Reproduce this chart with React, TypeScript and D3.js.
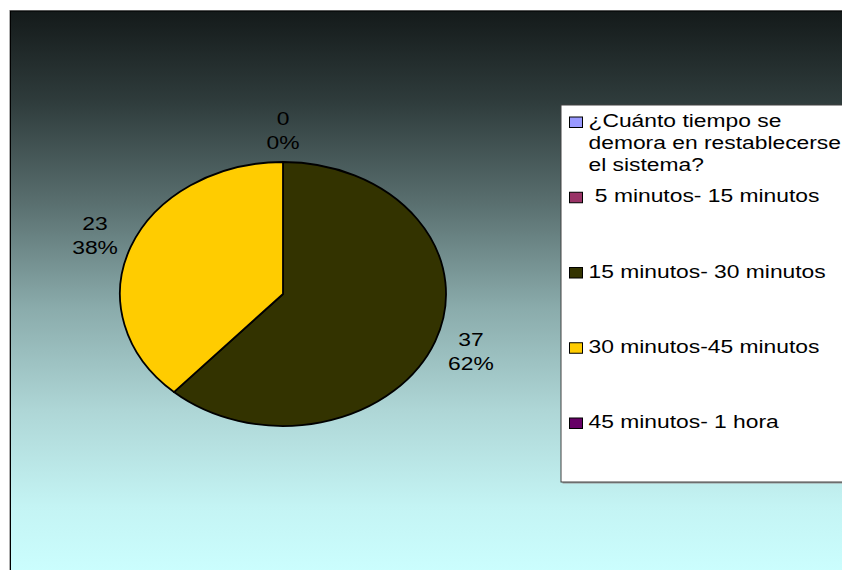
import React, { useEffect } from "react";
import * as d3 from "d3";

// ---- data ----
const categoryLines: string[][] = [
  ["¿Cuánto tiempo se", "demora en restablecerse", "el sistema?"],
  [" 5 minutos- 15 minutos"],
  ["15 minutos- 30 minutos"],
  ["30 minutos-45 minutos"],
  ["45 minutos- 1 hora"],
];
const values: (number | null)[] = [null, 0, 37, 23, null];
const colors: string[] = ["#9999FF", "#993366", "#333300", "#FFCC00", "#660066"];

// ---- layout ----
const W = 842;
const H = 570;
const SX = 1.235; // horizontal stretch of the picture
const CX = 283;
const CY = 294;
const R = 132;
const LABEL_R = 163;
const FONT = "'Liberation Sans', Arial, Helvetica, sans-serif";
const FS = 18.5;

type Slice = { name: string; value: number; color: string };

export default function App() {
  useEffect(() => {
    document.documentElement.style.overflow = "hidden";
    document.body.style.margin = "0";
    document.body.style.overflow = "hidden";
  }, []);

  const slices: Slice[] = categoryLines
    .map((lines, i) => ({ name: lines.join(" "), value: values[i] as number, color: colors[i] }))
    .filter((d, i) => values[i] !== null);
  const total = d3.sum(slices, (d) => d.value);

  const pie = d3
    .pie<Slice>()
    .sort(null)
    .value((d) => d.value)
    .startAngle(0)
    .endAngle(2 * Math.PI);
  const arcs = pie(slices);
  const arc = d3.arc<d3.PieArcDatum<Slice>>().innerRadius(0).outerRadius(R);

  const legendY = d3.scaleLinear().domain([0, categoryLines.length - 1]).range([122, 423]);

  const bgStops = [
    [0, "#141a1a"],
    [0.16, "#2f3c3c"],
    [0.34, "#5a7070"],
    [0.52, "#8aabab"],
    [0.7, "#aed6d6"],
    [0.87, "#c4f4f4"],
    [1, "#ccffff"],
  ];

  return (
    <svg
      width={W}
      height={H}
      style={{ position: "fixed", left: 0, top: 0, background: "#ffffff", display: "block" }}
      fontFamily={FONT}
    >
      <defs>
        <linearGradient id="bg" x1="0" y1="0" x2="0" y2="1">
          {bgStops.map(([o, c]) => (
            <stop key={String(o)} offset={o as number} stopColor={c as string} />
          ))}
        </linearGradient>
      </defs>
      {/* chart area */}
      <rect x={9.5} y={10.5} width={W + 20} height={H} fill="none" stroke="#b0b0b0" strokeWidth={1} />
      <rect x={10.5} y={11} width={W + 20} height={H} fill="url(#bg)" stroke="#000" strokeWidth={1} />

      {/* pie */}
      <g transform={`translate(${CX},${CY}) scale(${SX},1)`}>
        {arcs.map((a, i) => (
          <path
            key={i}
            d={arc(a) || ""}
            fill={a.data.color}
            stroke="#000"
            strokeWidth={1.8}
            strokeLinejoin="round"
            vectorEffect="non-scaling-stroke"
          />
        ))}
      </g>

      {/* data labels */}
      {arcs.map((a, i) => {
        const m = (a.startAngle + a.endAngle) / 2;
        const x = CX + SX * Math.sin(m) * LABEL_R;
        const y = CY - Math.cos(m) * LABEL_R;
        const pct = Math.round((a.data.value / total) * 100) + "%";
        return (
          <g key={i} transform={`translate(${x},${y}) scale(${SX},1)`} fontSize={FS} fill="#000" textAnchor="middle">
            <text x={0} y={-6}>{a.data.value}</text>
            <text x={0} y={18}>{pct}</text>
          </g>
        );
      })}

      {/* legend */}
      <rect x={562.5} y={106.5} width={320} height={377} fill="#9a9a9a" />
      <rect x={561} y={105} width={320} height={377} fill="#ffffff" stroke="#404040" strokeWidth={1} />
      {categoryLines.map((lines, i) => {
        const y = legendY(i);
        return (
          <g key={i}>
            <rect x={569.5} y={y - 5} width={13} height={10.5} fill={colors[i]} stroke="#000" strokeWidth={1} />
            <g transform={`translate(588.5,${y + 5}) scale(${SX},1)`} fontSize={FS} fill="#000">
              {lines.map((l, j) => (
                <text key={j} x={0} y={j * 22} style={{ whiteSpace: "pre" }}>
                  {l}
                </text>
              ))}
            </g>
          </g>
        );
      })}
    </svg>
  );
}
